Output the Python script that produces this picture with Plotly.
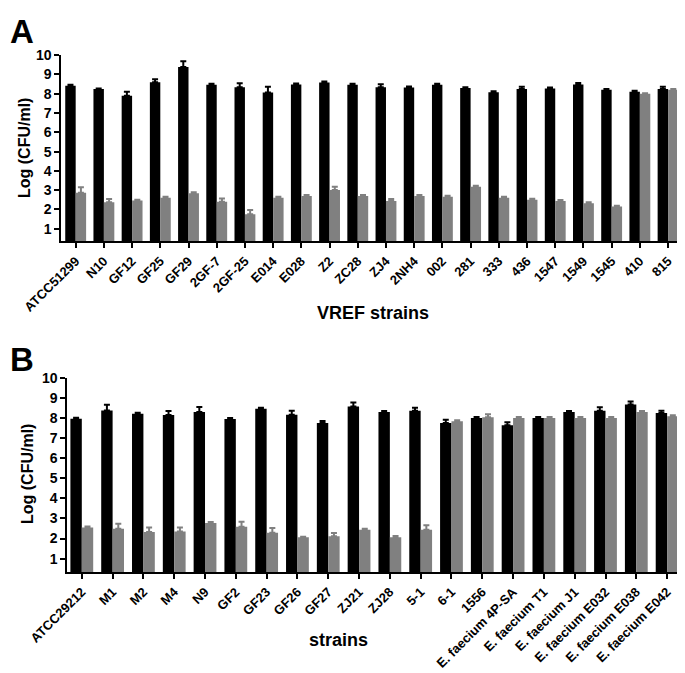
import plotly.graph_objects as go

# ---------------- Panel A data ----------------
strains_a = ["ATCC51299", "N10", "GF12", "GF25", "GF29", "2GF-7", "2GF-25", "E014",
             "E028", "Z2", "ZC28", "ZJ4", "2NH4", "002", "281", "333", "436",
             "1547", "1549", "1545", "410", "815"]
black_a = [8.41, 8.24, 7.90, 8.60, 9.38, 8.46, 8.34, 8.06, 8.48, 8.58, 8.46,
           8.34, 8.32, 8.46, 8.29, 8.08, 8.24, 8.27, 8.48, 8.20, 8.10, 8.24]
black_a_err = [0.05, 0.03, 0.20, 0.15, 0.30, 0.05, 0.20, 0.30, 0.05, 0.05, 0.05,
               0.15, 0.05, 0.05, 0.05, 0.05, 0.12, 0.05, 0.08, 0.05, 0.05, 0.12]
gray_a = [2.87, 2.37, 2.46, 2.61, 2.84, 2.40, 1.75, 2.61, 2.70, 3.01, 2.70,
          2.44, 2.70, 2.66, 3.18, 2.61, 2.51, 2.44, 2.32, 2.15, 8.00, 8.20]
gray_a_err = [0.28, 0.17, 0.05, 0.05, 0.05, 0.17, 0.22, 0.05, 0.05, 0.17, 0.05,
              0.10, 0.05, 0.05, 0.05, 0.05, 0.05, 0.05, 0.05, 0.05, 0.03, 0.05]

# ---------------- Panel B data ----------------
strains_b = ["ATCC29212", "M1", "M2", "M4", "N9", "GF2", "GF23", "GF26", "GF27",
             "ZJ21", "ZJ28", "5-1", "6-1", "1556", "E. faecium 4P-SA",
             "E. faecium T1", "E. faecium J1", "E. faecium E032",
             "E. faecium E038", "E. faecium E042"]
black_b = [7.96, 8.37, 8.21, 8.14, 8.29, 7.94, 8.46, 8.16, 7.74, 8.57,
           8.29, 8.36, 7.74, 7.99, 7.63, 7.99, 8.29, 8.36, 8.66, 8.24]
black_b_err = [0.05, 0.28, 0.05, 0.20, 0.25, 0.05, 0.05, 0.20, 0.10, 0.20,
               0.05, 0.14, 0.17, 0.05, 0.15, 0.05, 0.05, 0.17, 0.15, 0.12]
gray_b = [2.55, 2.49, 2.32, 2.35, 2.77, 2.59, 2.29, 2.06, 2.11, 2.44,
          2.07, 2.44, 7.83, 8.03, 7.99, 7.99, 7.99, 7.99, 8.29, 8.08]
gray_b_err = [0.05, 0.25, 0.23, 0.20, 0.05, 0.25, 0.23, 0.03, 0.17, 0.05,
              0.05, 0.22, 0.05, 0.15, 0.05, 0.05, 0.05, 0.05, 0.05, 0.05]

y_ticks = [1, 2, 3, 4, 5, 6, 7, 8, 9, 10]

BLACK = "#000000"
GRAY = "#808080"
FONT = "Liberation Sans, Arial, sans-serif"


def bar(x, y, err, color, xa, ya):
    return go.Bar(
        x=x, y=y, marker=dict(color=color, line=dict(width=0)),
        error_y=dict(type="data", array=err, arrayminus=[0] * len(err),
                     symmetric=False, color=color, thickness=2, width=3),
        xaxis=xa, yaxis=ya, showlegend=False,
    )


fig = go.Figure()
fig.add_trace(bar(list(range(len(strains_a))), black_a, black_a_err, BLACK, "x", "y"))
fig.add_trace(bar(list(range(len(strains_a))), gray_a, gray_a_err, GRAY, "x", "y"))
fig.add_trace(bar(list(range(len(strains_b))), black_b, black_b_err, BLACK, "x2", "y2"))
fig.add_trace(bar(list(range(len(strains_b))), gray_b, gray_b_err, GRAY, "x2", "y2"))

xtickfont = dict(family=FONT, size=13, color="black", weight="bold")
ytickfont = dict(family=FONT, size=14, color="black", weight="bold")

xcommon = dict(showline=True, linecolor="black", linewidth=2, ticks="outside",
               ticklen=5, tickwidth=2, tickcolor="black", tickangle=-45,
               tickfont=xtickfont, showgrid=False, zeroline=False, automargin=False)
ycommon = dict(showline=True, linecolor="black", linewidth=2, ticks="outside",
               ticklen=5, tickwidth=2, tickcolor="black", tickvals=y_ticks,
               tickfont=ytickfont, showgrid=False, zeroline=False, automargin=False)

fig.update_layout(
    width=685, height=673,
    margin=dict(l=0, r=0, t=0, b=0, autoexpand=False),
    paper_bgcolor="white", plot_bgcolor="white",
    barmode="group", bargap=0.26, bargroupgap=0,
    font=dict(family=FONT, color="black"),
    xaxis=dict(domain=[0.0778, 0.9879], anchor="y",
               range=[-0.51, 21.59], tickvals=list(range(len(strains_a))),
               ticktext=strains_a, **xcommon),
    yaxis=dict(domain=[0.6533, 0.930], anchor="x", range=[0.35, 10], **ycommon),
    xaxis2=dict(domain=[0.0866, 0.9937], anchor="y2",
                range=[-0.47, 19.7], tickvals=list(range(len(strains_b))),
                ticktext=strains_b, **xcommon),
    yaxis2=dict(domain=[0.1615, 0.4507], anchor="x2", range=[0.32, 10], **ycommon),
)

ann_font = dict(family=FONT, size=16, color="black", weight="bold")
xt_font = dict(family=FONT, size=18, color="black", weight="bold")
annotations = [
    dict(text="A", x=0, y=1 - 3 / 673, xanchor="left", yanchor="top",
         font=dict(family=FONT, size=33, color="black", weight="bold")),
    dict(text="B", x=0, y=1 - 331 / 673, xanchor="left", yanchor="top",
         font=dict(family=FONT, size=33, color="black", weight="bold")),
    dict(text="Log (CFU/ml)", x=16 / 685, y=1 - 140 / 673, textangle=-90,
         xanchor="center", yanchor="middle", font=ann_font),
    dict(text="Log (CFU/ml)", x=19 / 685, y=1 - 466 / 673, textangle=-90,
         xanchor="center", yanchor="middle", font=ann_font),
    dict(text="VREF strains", x=365 / 685, y=1 - 305 / 673,
         xanchor="center", yanchor="middle", font=xt_font),
    dict(text="strains", x=330 / 685, y=1 - 632 / 673,
         xanchor="center", yanchor="middle", font=xt_font),
]
for a in annotations:
    a.update(xref="paper", yref="paper", showarrow=False)
fig.update_layout(annotations=annotations)

fig.write_html("out.html")
